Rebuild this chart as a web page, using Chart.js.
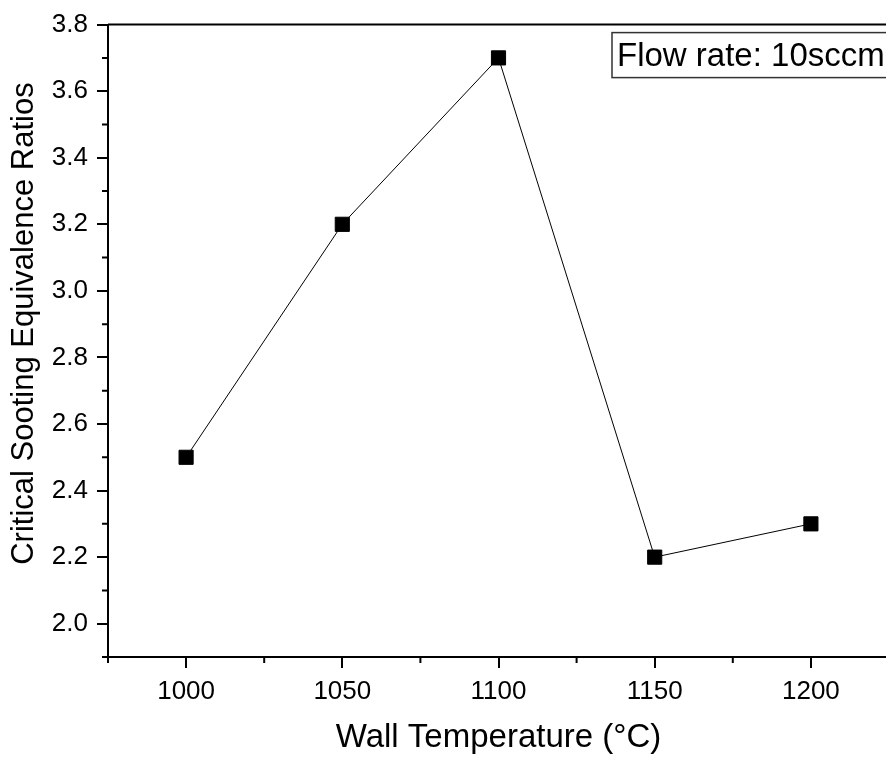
<!DOCTYPE html>
<html>
<head>
<meta charset="utf-8">
<script src="https://cdn.jsdelivr.net/npm/chart.js@4"></script>
<style>
html, body { margin: 0; padding: 0; background: #fff; overflow: hidden; }
#wrap { width: 900px; height: 759px; }
</style>
</head>
<body>
<div id="wrap"><canvas id="chart"></canvas></div>
<script>
// data
var wallTemps = [1000, 1050, 1100, 1150, 1200];
var sootRatios = [2.5, 3.2, 3.7, 2.2, 2.3];
var noteText = "Flow rate: 10sccm";

var FONT = "'Liberation Sans', Arial, sans-serif";

// box frame, minor ticks and the flow-rate note
var framePlugin = {
  id: "frame",
  afterDraw: function (chart) {
    var c = chart.ctx, a = chart.chartArea;
    var xs = chart.scales.x, ys = chart.scales.y;
    c.save();
    c.strokeStyle = "#000";
    c.lineWidth = 2;
    c.beginPath();
    c.moveTo(a.left, a.top); c.lineTo(a.right, a.top); c.lineTo(a.right, a.bottom);
    c.stroke();
    // minor ticks
    c.beginPath();
    xs.ticks.forEach(function (t) {
      if (Math.round(t.value) % 50 !== 0) {
        var px = xs.getPixelForValue(t.value);
        c.moveTo(px, a.bottom); c.lineTo(px, a.bottom + 6);
      }
    });
    ys.ticks.forEach(function (t) {
      if (Math.round(t.value * 10) % 2 !== 0) {
        var py = ys.getPixelForValue(t.value);
        c.moveTo(a.left, py); c.lineTo(a.left - 6, py);
      }
    });
    c.stroke();
    // note box
    var bx = a.left + 504, by = a.top + 8;
    c.fillStyle = "#fff";
    c.fillRect(bx, by, 290, 45);
    c.lineWidth = 1.5;
    c.strokeStyle = "#333";
    c.strokeRect(bx, by, 290, 45);
    c.fillStyle = "#000";
    c.font = "33px " + FONT;
    c.textBaseline = "alphabetic";
    c.fillText(noteText, bx + 5, by + 33);
    c.restore();
  }
};

var points = wallTemps.map(function (t, i) { return { x: t, y: sootRatios[i] }; });

new Chart(document.getElementById("chart"), {
  type: "scatter",
  data: {
    datasets: [{
      data: points,
      showLine: true,
      borderColor: "#000",
      borderWidth: 1,
      backgroundColor: "#000",
      pointStyle: "rect",
      pointRadius: 10,
      pointHoverRadius: 10,
      tension: 0
    }]
  },
  options: {
    responsive: true,
    maintainAspectRatio: false,
    animation: false,
    layout: { padding: { top: 20, right: 8, left: 0, bottom: 0 } },
    plugins: { legend: { display: false }, tooltip: { enabled: false } },
    scales: {
      x: {
        type: "linear",
        min: 975,
        max: 1225,
        afterFit: function (s) { s.height = 102; },
        ticks: {
          stepSize: 25,
          color: "#000",
          padding: 8,
          maxRotation: 0,
          autoSkip: false,
          font: { size: 26, family: FONT },
          callback: function (v) { return Math.round(v) % 50 === 0 ? String(v) : ""; }
        },
        grid: {
          drawOnChartArea: false,
          tickLength: 11,
          lineWidth: 2,
          color: function (c) { return c.tick && Math.round(c.tick.value) % 50 === 0 ? "#000" : "rgba(0,0,0,0)"; }
        },
        border: { display: true, color: "#000", width: 2 },
        title: {
          display: true,
          text: "Wall Temperature (\u00B0C)",
          color: "#000",
          font: { size: 33, family: FONT },
          padding: { top: 0, bottom: 1 }
        }
      },
      y: {
        min: 1.9,
        max: 3.8,
        afterFit: function (s) { s.width = 108; },
        ticks: {
          stepSize: 0.1,
          color: "#000",
          padding: 9,
          autoSkip: false,
          font: { size: 26, family: FONT },
          callback: function (v) { return Math.round(v * 10) % 2 === 0 ? v.toFixed(1) : ""; }
        },
        grid: {
          drawOnChartArea: false,
          tickLength: 11,
          lineWidth: 2,
          color: function (c) { return c.tick && Math.round(c.tick.value * 10) % 2 === 0 ? "#000" : "rgba(0,0,0,0)"; }
        },
        border: { display: true, color: "#000", width: 2 },
        title: {
          display: true,
          text: "    Critical Sooting Equivalence Ratios",
          color: "#000",
          font: { size: 31, family: FONT },
          padding: { top: 6, bottom: 0 }
        }
      }
    }
  },
  plugins: [framePlugin]
});
</script>
</body>
</html>
